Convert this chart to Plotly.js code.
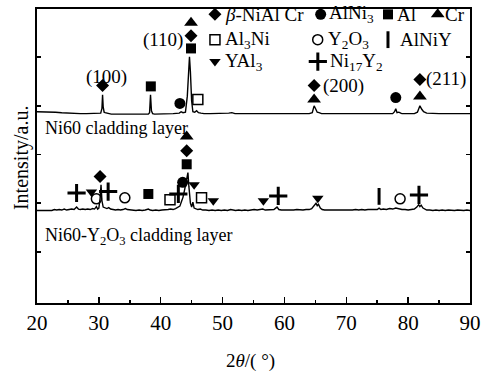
<!DOCTYPE html>
<html>
<head>
<meta charset="utf-8">
<script src="https://cdn.plot.ly/plotly-3.0.1.min.js"></script>
<style>html,body{margin:0;padding:0;background:#fff;}#chart{width:481px;height:372px;}</style>
</head>
<body>
<div id="chart"></div>
<script>
// ---- Data ----
const xTicks = [20, 30, 40, 50, 60, 70, 80, 90];

// Ni60 cladding layer pattern
const ni60X = [20,21,22,23,24,25,26,27,28,29,30,30.3,30.5,30.6,30.7,30.85,31,31.5,32,33,34,35,36,37,38,38.2,38.35,38.5,38.7,39,40,41,42,43,43.3,43.6,44,44.3,44.5,44.65,44.8,45,45.2,45.5,45.8,46.1,46.5,47,48,49,50,51,51.5,52,53,54,55,56,57,58,59,60,61,62,63,64,64.5,64.8,65,65.3,65.6,66,67,68,69,70,71,72,73,74,75,76,77,77.5,77.8,78,78.2,78.5,78.8,79,80,81,81.5,81.9,82.2,82.5,83,84,85,86,87,88,89,90];
const ni60Y = [3.88,3.88,3.88,3.87,3.86,3.85,3.85,3.84,3.84,3.84,3.84,3.85,3.95,4.23,3.98,3.87,3.86,3.84,3.83,3.83,3.83,3.83,3.83,3.83,3.83,3.86,4.23,3.90,3.84,3.83,3.83,3.83,3.84,3.85,3.88,3.86,3.87,4.20,4.80,5.01,4.70,4.10,3.88,3.87,3.90,3.86,3.85,3.84,3.84,3.84,3.84,3.85,3.86,3.84,3.84,3.84,3.84,3.84,3.84,3.84,3.84,3.84,3.84,3.84,3.84,3.84,3.86,4.00,3.95,3.87,3.86,3.84,3.84,3.84,3.84,3.84,3.84,3.84,3.84,3.84,3.84,3.84,3.84,3.84,3.88,3.94,3.86,3.87,3.85,3.84,3.84,3.84,3.87,4.00,3.93,3.88,3.85,3.84,3.84,3.84,3.84,3.84,3.84,3.84];

// Ni60-Y2O3 cladding layer pattern
const niyX = [20,20.5,21,21.5,22,22.4,22.8,23.2,23.6,24,24.4,24.8,25.2,25.6,26,26.4,26.7,27,27.4,27.8,28.2,28.6,29,29.3,29.6,29.8,30,30.2,30.35,30.5,30.7,31,31.3,31.6,31.9,32.3,32.7,33.1,33.5,33.9,34.3,34.6,35,35.5,36,36.5,37,37.5,38,38.3,38.7,39.2,39.7,40.2,40.7,41.2,41.6,42,42.4,42.8,43.1,43.4,43.6,43.9,44.15,44.4,44.55,44.8,45,45.2,45.4,45.7,46,46.4,46.8,47.3,47.8,48.3,48.8,49.3,49.8,50.3,50.8,51.3,51.7,52.1,52.6,53.1,53.6,54.1,54.6,55.1,55.6,56.1,56.5,56.9,57.3,57.8,58.3,58.8,59.1,59.5,60,60.5,61,61.5,62,62.5,63,63.5,64,64.4,64.7,64.9,65.1,65.3,65.5,65.8,66.1,66.5,67,67.5,68,68.5,69,69.5,70,70.5,71,71.5,72,72.5,73,73.5,74,74.5,75,75.3,75.6,76,76.5,77,77.5,78,78.5,79,79.5,80,80.5,81,81.4,81.7,81.9,82.1,82.4,82.7,83,83.5,84,84.5,85,85.5,86,86.5,87,87.5,88,88.5,89,89.5,90];
const niyY = [1.85,1.85,1.86,1.85,1.86,1.85,1.87,1.86,1.87,1.86,1.88,1.86,1.87,1.88,1.87,1.92,1.88,1.87,1.88,1.87,1.88,1.87,1.89,1.88,1.93,1.88,1.90,2.10,2.38,2.05,1.92,1.90,1.89,1.91,1.88,1.87,1.86,1.87,1.86,1.87,1.89,1.87,1.86,1.86,1.85,1.86,1.85,1.86,1.88,1.86,1.85,1.86,1.85,1.86,1.86,1.87,1.88,1.87,1.89,1.92,1.94,2.05,2.12,2.30,2.50,2.63,2.35,2.00,1.92,2.02,1.90,1.88,1.87,1.88,1.86,1.86,1.85,1.86,1.85,1.86,1.85,1.86,1.85,1.87,1.86,1.85,1.86,1.85,1.86,1.85,1.86,1.87,1.86,1.87,1.88,1.86,1.86,1.86,1.87,1.92,1.87,1.86,1.86,1.85,1.86,1.86,1.87,1.86,1.86,1.87,1.87,1.89,1.93,1.97,2.00,1.95,1.98,1.90,1.87,1.86,1.86,1.85,1.86,1.85,1.86,1.85,1.86,1.86,1.86,1.87,1.86,1.87,1.86,1.87,1.87,1.88,1.87,1.90,1.87,1.88,1.87,1.89,1.88,1.90,1.88,1.87,1.87,1.86,1.87,1.88,1.92,1.97,1.93,1.96,1.90,1.88,1.86,1.86,1.85,1.86,1.85,1.86,1.85,1.86,1.85,1.85,1.86,1.85,1.85,1.86,1.85];

// Phase identification markers
const betaX = [30.6, 44.9, 64.8, 81.9, 30.2, 44.2];
const betaY = [4.42, 5.44, 4.42, 4.54, 2.55, 3.08];
const alni3X = [43.1, 78.0, 43.55];
const alni3Y = [4.05, 4.17, 2.43];
const alX = [38.4, 44.9, 38.0, 44.2];
const alY = [4.40, 5.18, 2.19, 2.80];
const crX = [44.9, 64.8, 81.9, 44.2];
const crY = [5.71, 4.13, 4.19, 3.37];
const al3niX = [46.0, 41.5, 46.6];
const al3niY = [4.13, 2.07, 2.11];
const y2o3X = [29.6, 34.2, 78.7];
const y2o3Y = [2.09, 2.11, 2.09];
const alniyX = [75.3];
const alniyY = [2.14];
const yal3X = [28.8, 45.4, 48.5, 56.6, 65.4];
const yal3Y = [2.23, 2.38, 2.05, 2.05, 2.10];
const ni17y2X = [26.4, 31.5, 42.85, 59.0, 81.75];
const ni17y2Y = [2.21, 2.24, 2.19, 2.15, 2.17];

const phaseNames = ['<i>β</i>-NiAl Cr', 'AlNi<sub>3</sub>', 'Al', 'Cr', 'Al<sub>3</sub>Ni', 'Y<sub>2</sub>O<sub>3</sub>', 'AlNiY', 'YAl<sub>3</sub>', 'Ni<sub>17</sub>Y<sub>2</sub>'];
const planeLabels = ['(100)', '(110)', '(200)', '(211)'];
const sampleLabels = ['Ni60 cladding layer', 'Ni60-Y<sub>2</sub>O<sub>3</sub> cladding layer'];

// ---- Styles ----
const FONT = 'Liberation Serif, Times New Roman, serif';
const K = '#000';
const sym = [
  {s:'diamond', size:10},
  {s:'circle', size:11},
  {s:'square', size:10},
  {s:'triangle-up', size:12},
  {s:'square-open', size:10, lw:1.5},
  {s:'circle-open', size:10, lw:1.5},
  {s:'line-ns', size:12, lw:3},
  {s:'triangle-down', size:10},
  {s:'cross-thin', size:13, lw:3}
];
const phaseData = [[betaX,betaY],[alni3X,alni3Y],[alX,alY],[crX,crY],[al3niX,al3niY],[y2o3X,y2o3Y],[alniyX,alniyY],[yal3X,yal3Y],[ni17y2X,ni17y2Y]];

function mk(i){
  const m = sym[i];
  return {symbol:m.s, size:m.size, color:K, line:{color:K, width:m.lw || 0}};
}

const traces = [
  {x:ni60X, y:ni60Y, mode:'lines', line:{color:K, width:1.4}, hoverinfo:'skip'},
  {x:niyX, y:niyY, mode:'lines', line:{color:K, width:1.4}, hoverinfo:'skip'}
];
phaseData.forEach((d,i)=>{
  traces.push({x:d[0], y:d[1], mode:'markers', marker:mk(i), cliponaxis:false});
});

// legend block (layout positions in data coords)
const legPos = [[48.77,5.88],[65.86,5.88],[76.74,5.88],[84.78,5.88],[48.77,5.36],[65.38,5.36],[76.74,5.36],[48.77,4.91],[65.4,4.91]];
const legTextX = [50.1, 66.9, 77.9, 85.6, 50.1, 66.7, 78.4, 50.1, 67.0];
legPos.forEach((p,i)=>{
  traces.push({x:[p[0]], y:[p[1]], mode:'markers', marker:mk(i), cliponaxis:false});
});

const annotations = [];
phaseNames.forEach((t,i)=>{
  annotations.push({x:legTextX[i], y:legPos[i][1], xref:'x', yref:'y', text:t, showarrow:false, xanchor:'left', yanchor:'middle', font:{family:FONT, size:19, color:K}});
});
annotations.push({x:31.3, y:4.6, xref:'x', yref:'y', text:planeLabels[0], showarrow:false, xanchor:'center', yanchor:'middle', font:{family:FONT, size:19, color:K}});
annotations.push({x:43.9, y:5.36, xref:'x', yref:'y', text:planeLabels[1], showarrow:false, xanchor:'right', yanchor:'middle', font:{family:FONT, size:19, color:K}});
annotations.push({x:65.9, y:4.4, xref:'x', yref:'y', text:planeLabels[2], showarrow:false, xanchor:'left', yanchor:'middle', font:{family:FONT, size:19, color:K}});
annotations.push({x:82.6, y:4.55, xref:'x', yref:'y', text:planeLabels[3], showarrow:false, xanchor:'left', yanchor:'middle', font:{family:FONT, size:19, color:K}});
annotations.push({x:20.9, y:3.55, xref:'x', yref:'y', text:sampleLabels[0], showarrow:false, xanchor:'left', yanchor:'middle', font:{family:FONT, size:18, color:K}});
annotations.push({x:20.9, y:1.32, xref:'x', yref:'y', text:sampleLabels[1], showarrow:false, xanchor:'left', yanchor:'middle', font:{family:FONT, size:18, color:K}});
// axis titles
annotations.push({x:-0.037, y:0.493, xref:'paper', yref:'paper', text:'Intensity/a.u.', textangle:-90, showarrow:false, xanchor:'center', yanchor:'middle', font:{family:FONT, size:20, color:K}});
annotations.push({x:0.492, y:-0.197, xref:'paper', yref:'paper', text:'2<i>θ</i>/( °)', showarrow:false, xanchor:'center', yanchor:'middle', font:{family:FONT, size:19, color:K}});

const layout = {
  width:481, height:372,
  margin:{l:37, r:11, t:9, b:69},
  paper_bgcolor:'#fff', plot_bgcolor:'#fff',
  showlegend:false,
  font:{family:FONT, color:K},
  xaxis:{
    range:[20,90], tickvals:xTicks, ticktext:xTicks.map(String),
    ticks:'inside', ticklen:6, tickwidth:1.5, tickcolor:K,
    minor:{ticks:'inside', ticklen:3, tickwidth:1.5, dtick:5, tickcolor:K, showgrid:false},
    showline:true, linecolor:K, linewidth:1.8, mirror:true,
    showgrid:false, zeroline:false,
    tickfont:{family:FONT, size:21, color:K}
  },
  yaxis:{
    range:[-0.05, 5.99], tickvals:[1,2,3,4,5], showticklabels:false,
    ticks:'inside', ticklen:4, tickwidth:1.5, tickcolor:K,
    showline:true, linecolor:K, linewidth:1.8, mirror:'ticks',
    showgrid:false, zeroline:false
  },
  annotations:annotations
};

Plotly.newPlot('chart', traces, layout, {displayModeBar:false, staticPlot:true});
</script>
</body>
</html>
